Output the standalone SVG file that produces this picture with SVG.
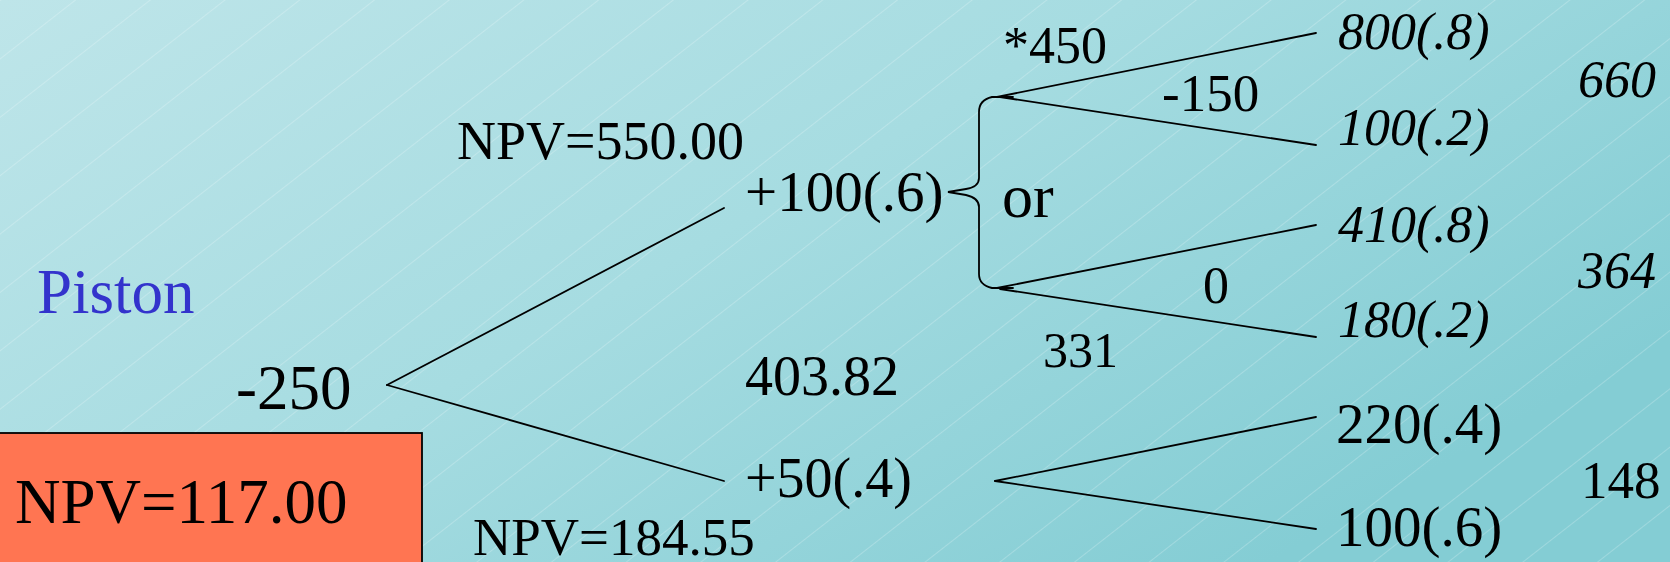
<svg xmlns="http://www.w3.org/2000/svg" width="1670" height="562" viewBox="0 0 1670 562">
  <style>
    text { font-family: "Liberation Serif", "Times New Roman", serif; fill: #000; }
    .it { font-style: italic; }
    .edge { stroke: #000; stroke-width: 1.8; fill: none; stroke-linecap: round; }
  </style>
  <defs>
    <linearGradient id="bg" x1="0" y1="0" x2="1" y2="0.6">
      <stop offset="0" stop-color="#BEE5E9"/>
      <stop offset="0.5" stop-color="#A6DCE1"/>
      <stop offset="1" stop-color="#84CDD4"/>
    </linearGradient>
    <pattern id="hatch" patternUnits="userSpaceOnUse" width="200" height="46" patternTransform="rotate(-38)">
      <line x1="0" y1="0.5" x2="200" y2="0.5" stroke="#FFFFFF" stroke-opacity="0.22" stroke-width="1"/>
    </pattern>
  </defs>

  <rect x="0" y="0" width="1670" height="562" fill="url(#bg)"/>
  <rect x="0" y="0" width="1670" height="562" fill="url(#hatch)"/>

  <g id="connectors">
    <line class="edge" x1="387" y1="385" x2="724" y2="208"/>
    <line class="edge" x1="387" y1="385" x2="724" y2="481"/>
    <line class="edge" x1="997" y1="97" x2="1316" y2="33"/>
    <line class="edge" x1="1000" y1="97" x2="1316" y2="145"/>
    <line class="edge" x1="997" y1="288" x2="1316" y2="225"/>
    <line class="edge" x1="1000" y1="289" x2="1316" y2="337"/>
    <line class="edge" x1="995" y1="481" x2="1316" y2="417"/>
    <line class="edge" x1="995" y1="481" x2="1316" y2="529"/>
    <path class="edge" d="M1013 97 L992 97 Q979 100 979 112 L979 178 Q979 187 966 189 L948 192 L966 195 Q979 198 979 207 L979 274 Q979 285 992 288 L1013 288"/>
  </g>

  <g id="piston-label">
    <text x="37" y="313" font-size="63" style="fill:#3333CC">Piston</text>
  </g>

  <g id="root">
    <text x="236" y="409" font-size="63">-250</text>
  </g>

  <g id="npv-total">
    <rect x="-2" y="433" width="424" height="140" fill="#FF7552" stroke="#000" stroke-width="1.8"/>
    <text x="15" y="523" font-size="63">NPV=117.00</text>
  </g>

  <g id="node-up">
    <text x="457" y="159" font-size="54">NPV=550.00</text>
    <text x="745" y="211" font-size="57">+100(.6)</text>
  </g>

  <g id="node-value">
    <text x="745" y="395" font-size="56">403.82</text>
  </g>

  <g id="node-down">
    <text x="745" y="497" font-size="56">+50(.4)</text>
    <text x="473" y="555" font-size="53">NPV=184.55</text>
  </g>

  <g id="decision">
    <text x="1002" y="217" font-size="62">or</text>
    <text x="1003" y="63" font-size="52">*450</text>
    <text x="1162" y="111" font-size="53">-150</text>
    <text x="1203" y="303" font-size="52">0</text>
    <text x="1043" y="367" font-size="50">331</text>
  </g>

  <g id="leaf-800"><text class="it" x="1338" y="49" font-size="52">800(.8)</text></g>
  <g id="leaf-100a"><text class="it" x="1338" y="145" font-size="52">100(.2)</text></g>
  <g id="leaf-410"><text class="it" x="1338" y="242" font-size="52">410(.8)</text></g>
  <g id="leaf-180"><text class="it" x="1338" y="337" font-size="52">180(.2)</text></g>
  <g id="leaf-220"><text x="1336" y="443" font-size="57">220(.4)</text></g>
  <g id="leaf-100b"><text x="1336" y="546" font-size="57">100(.6)</text></g>

  <g id="ev-660"><text class="it" x="1578" y="97" font-size="52">660</text></g>
  <g id="ev-364"><text class="it" x="1578" y="288" font-size="52">364</text></g>
  <g id="ev-148"><text x="1581" y="498" font-size="53">148</text></g>
</svg>
